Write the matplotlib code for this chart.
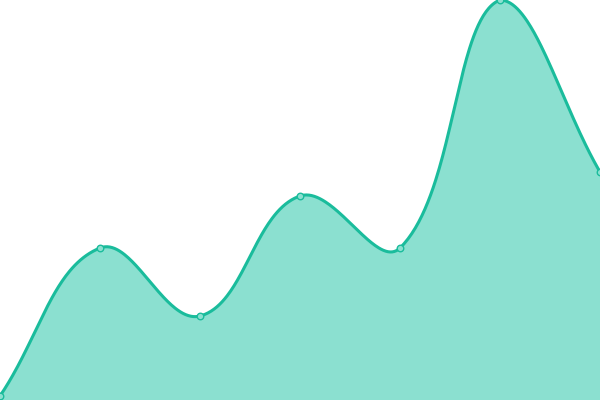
import numpy as np
import matplotlib
matplotlib.use("Agg")
import matplotlib.pyplot as plt

x_vals = [0, 1, 2, 3, 4, 5, 6]
y_vals = [1, 38, 21, 51, 38, 100, 57]

line_color = "#1abc9c"
fill_color = "#8be0d0"
tension = 0.4

fig = plt.figure(figsize=(6, 4), dpi=100)
ax = fig.add_axes([0, 0, 1, 1])
ax.set_xlim(0, 6)
ax.set_ylim(0, 100)
ax.axis("off")

# work in pixel space (like a canvas chart library), then map back to data
pts = ax.transData.transform(np.column_stack([x_vals, y_vals]))
W, H = fig.bbox.width, fig.bbox.height
n = len(pts)
cps = []
for i in range(n):
    cur = pts[i]
    prev = pts[i - 1] if i > 0 else cur
    nxt = pts[i + 1] if i < n - 1 else cur
    d01 = np.hypot(*(cur - prev))
    d12 = np.hypot(*(nxt - cur))
    s01 = d01 / (d01 + d12) if d01 + d12 else 0
    s12 = d12 / (d01 + d12) if d01 + d12 else 0
    fa, fb = tension * s01, tension * s12
    c1 = cur - fa * (nxt - prev)
    c2 = cur + fb * (nxt - prev)
    c1 = np.clip(c1, [0, 0], [W, H])
    c2 = np.clip(c2, [0, 0], [W, H])
    cps.append((c1, c2))

curve = []
t = np.linspace(0, 1, 80)[:, None]
for i in range(n - 1):
    p0 = pts[i]; p1 = cps[i][1]; p2 = cps[i + 1][0]; p3 = pts[i + 1]
    seg = (1 - t)**3 * p0 + 3 * (1 - t)**2 * t * p1 + 3 * (1 - t) * t**2 * p2 + t**3 * p3
    curve.append(seg)
curve = np.vstack(curve)
data_curve = ax.transData.inverted().transform(curve)
sx, sy = data_curve[:, 0], data_curve[:, 1]

ax.fill_between(sx, sy, 0, color=fill_color, linewidth=0, zorder=1)
ax.plot(sx, sy, color=line_color, linewidth=2.2, zorder=2, solid_capstyle="round")
ax.scatter(x_vals, y_vals, s=22, facecolor=fill_color, edgecolor=line_color,
           linewidth=1.0, zorder=3)
ax.set_xlim(0, 6)
ax.set_ylim(0, 100)
fig.savefig("out.png", dpi=100)
